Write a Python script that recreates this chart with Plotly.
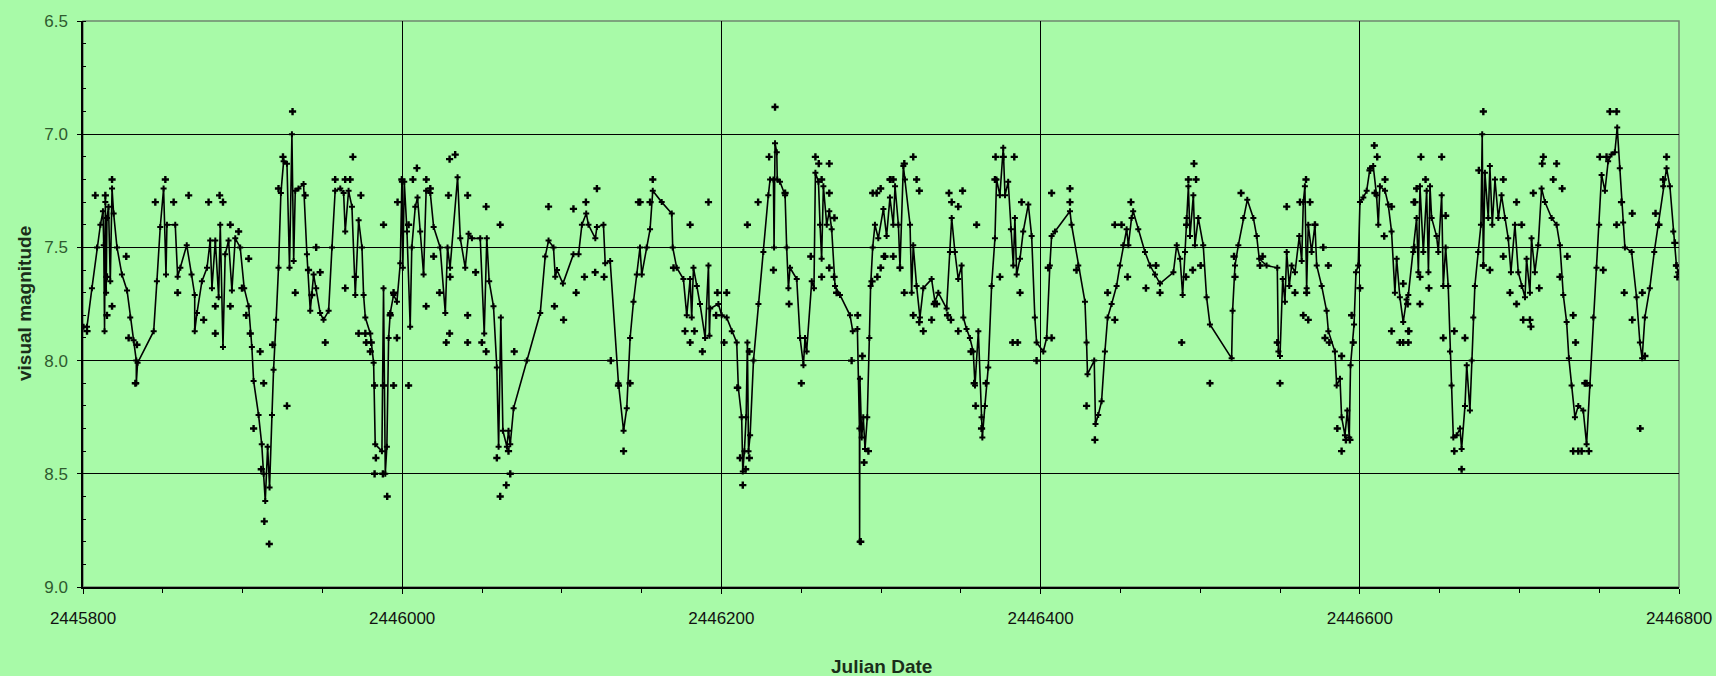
import plotly.graph_objects as go

# Julian Date origin of the plotted interval
JD0 = 2445800

# Running light curve (days after JD0, visual magnitude)
line_day = [
    0.4, 2.5, 5.6, 8.8, 10.9, 12.5, 13, 13.5, 14, 14.5, 15, 16, 17.1, 18.2, 19.2, 21.3, 24.4, 27.6, 29.6, 31.7,
    33.4, 33.4, 34.2, 44.3, 46.3, 48.4, 50.5, 52, 52.6, 57.8, 59.3, 61, 65, 68, 70, 70, 71.4, 74.5, 77.7, 79.7,
    80.8, 82.9, 85, 86, 87.7, 89.1, 91.2, 93.3, 95.4, 98.5, 101, 103.8, 105.8, 106.9, 110, 112, 113.2, 114.2, 115.7, 116.9,
    118.4, 119.4, 121, 122.5, 124, 125.7, 127.8, 129.4, 130.9, 132, 133, 135, 138.2, 140.3, 142.4, 144.5, 146.1, 148.6, 150.7, 153.9,
    156, 158, 161.2, 163.3, 164.3, 166.4, 168.5, 170.6, 172.7, 174.8, 175.8, 176.9, 180, 182.1, 183.1, 187.3, 188.3, 189.4, 190.4, 191.5,
    192.5, 194.6, 196.7, 198.8, 199.8, 200.4, 201.3, 203, 205, 206, 208.2, 209.6, 211.3, 213.4, 215, 217.6, 219.7, 223.8, 227, 228.4,
    230, 234.7, 236.4, 239.5, 241.6, 243.7, 248.9, 251.4, 253, 254.5, 257.2, 259.3, 260.4, 261.8, 263.1, 265.6, 266.6, 267.7, 269.8, 278.1,
    286.5, 289.6, 291.7, 294.8, 295.9, 297, 300.7, 307.3, 310.5, 312.6, 315.3, 316.7, 321, 322, 326.1, 327.2, 330.3, 335.5, 338.7, 340.7,
    342.8, 344.9, 347, 349, 350.1, 353.2, 355.3, 357, 362.6, 368.9, 369.5, 372, 376.2, 378.3, 380.4, 381.4, 382.5, 384.6, 386.6, 389.8,
    391.9, 392.5, 393, 398.1, 400.2, 403.3, 406.5, 409.6, 410.6, 412.7, 413.4, 414.4, 415.5, 416.3, 417, 418, 420.1, 423.2, 426.3, 429.4,
    430.5, 432.6, 433, 433.6, 434.7, 435, 436.7, 439.9, 440.9, 442, 443, 447.2, 449.3, 451.4, 452.4, 453.4, 456.6, 458, 458.9, 460.8,
    461.8, 462.8, 463.9, 466, 467.6, 469.1, 471.2, 474.3, 480.6, 482.3, 485.2, 486.5, 486.6, 486.8, 487.9, 488.9, 490, 491.4, 492.7, 493.5,
    494.8, 496.2, 498.3, 501.5, 503.5, 505.6, 507.7, 508.8, 510.9, 511.9, 514, 515, 518.2, 519.2, 520.2, 522.3, 524.4, 526.5, 531.7, 533.8,
    535.9, 541.1, 543.2, 544.3, 546.3, 548.4, 550.5, 551.6, 553.6, 555.7, 557.8, 558.9, 561, 563, 563.5, 565.1, 567.2, 569.3, 571.4, 572.4,
    574.5, 576.6, 577.7, 579.7, 581.4, 582.9, 583.9, 585, 587.1, 589.1, 592.3, 594.4, 596.4, 597.5, 601.7, 603.8, 605.8, 606.9, 609, 618.4,
    619.4, 623.6, 627.8, 628.8, 629.4, 633.6, 634.4, 636.1, 638.2, 640.3, 642, 644.5, 647.6, 649.7, 651.8, 653.9, 655, 657, 658, 661.2,
    665.4, 668.6, 671.7, 674.8, 683.2, 685.3, 687.4, 689, 690.5, 691.5, 692.6, 693.6, 695.7, 696.7, 698.8, 701.9, 704, 706.1, 719.7, 720.3,
    721.8, 723.9, 727, 729.5, 733.3, 735.4, 737, 741.6, 748.3, 749, 750, 751.7, 753.1, 754.2, 755.8, 757.3, 759.4, 762.1, 763.6, 764.6,
    765.6, 766.7, 767.7, 769.8, 771.9, 773, 776.1, 779.2, 780.3, 784.4, 785.5, 787.6, 788.6, 790.7, 792.2, 793.4, 794.2, 796.4, 797.6, 799,
    800.1, 802.2, 804.3, 806.4, 808.4, 810.5, 811.6, 812.6, 815.8, 817.8, 819.9, 822, 823.1, 825.1, 827.2, 829.3, 830.4, 833.5, 835.6, 836.7,
    837.7, 839.8, 841.9, 843, 844, 845, 848.1, 849.2, 851.3, 852.3, 853.8, 855.4, 856.5, 857.5, 858.6, 860.7, 862.8, 863.8, 865.9, 867,
    869, 870.1, 871.1, 872.1, 874.2, 875.9, 876.7, 877.4, 878.4, 880.5, 881.5, 883, 884.7, 886.8, 888.8, 890.9, 893, 894.7, 897.2, 899.3,
    901.4, 903.5, 904.5, 906.6, 907.6, 909.7, 911.8, 913.9, 916, 920.2, 923.3, 925.4, 927.5, 929.6, 931, 932.7, 934.8, 936.9, 940, 942.1,
    944.2, 946.3, 948.3, 950, 951.5, 953.6, 955.6, 957.7, 959.8, 961.3, 962.9, 965, 966.1, 970.3, 973.4, 975.5, 976.9, 978.6, 981.7, 984.5,
    987, 990.1, 992.2, 994.3, 996.4, 998.4, 999.5,
]
line_mag = [
    7.85, 7.85, 7.68, 7.50, 7.40, 7.34, 7.49, 7.87, 7.30, 7.70, 7.37, 7.32, 7.65, 7.24, 7.35, 7.50, 7.62, 7.69, 7.81, 7.91,
    8.00, 8.10, 8.01, 7.87, 7.65, 7.41, 7.24, 7.62, 7.40, 7.40, 7.63, 7.59, 7.49, 7.62, 7.71, 7.87, 7.79, 7.65, 7.59, 7.47,
    7.68, 7.47, 7.72, 7.40, 7.94, 7.53, 7.47, 7.69, 7.46, 7.50, 7.68, 7.76, 7.94, 8.09, 8.24, 8.37, 8.50, 8.62, 8.38, 8.56,
    8.24, 8.04, 7.82, 7.59, 7.26, 7.12, 7.13, 7.59, 7.00, 7.56, 7.25, 7.24, 7.22, 7.53, 7.78, 7.62, 7.68, 7.79, 7.82, 7.78,
    7.50, 7.25, 7.24, 7.26, 7.43, 7.25, 7.32, 7.71, 7.38, 7.50, 7.71, 7.81, 7.88, 8.01, 8.37, 8.40, 7.68, 8.50, 8.38, 7.90,
    7.79, 7.71, 7.74, 7.57, 7.21, 7.59, 7.21, 7.43, 7.85, 7.50, 7.32, 7.28, 7.43, 7.62, 7.25, 7.26, 7.41, 7.50, 7.79, 7.50,
    7.59, 7.19, 7.46, 7.59, 7.44, 7.46, 7.46, 7.88, 7.46, 7.65, 7.76, 8.03, 8.38, 7.81, 8.31, 8.38, 8.31, 8.37, 8.21, 8.00,
    7.79, 7.54, 7.47, 7.50, 7.63, 7.60, 7.66, 7.53, 7.53, 7.40, 7.35, 7.40, 7.46, 7.41, 7.40, 7.57, 7.56, 8.10, 8.31, 8.21,
    7.90, 7.74, 7.62, 7.50, 7.62, 7.50, 7.42, 7.25, 7.30, 7.35, 7.50, 7.59, 7.64, 7.80, 7.64, 7.81, 7.59, 7.67, 7.75, 7.90,
    7.58, 7.89, 7.77, 7.75, 7.80, 7.81, 7.87, 7.92, 8.12, 8.25, 8.49, 8.40, 8.25, 7.92, 8.40, 8.33, 8.00, 7.75, 7.52, 7.27,
    7.20, 7.20, 7.50, 7.04, 7.08, 7.20, 7.21, 7.27, 7.50, 7.68, 7.59, 7.64, 7.90, 8.02, 7.90, 7.96, 7.65, 7.68, 7.17, 7.21,
    7.40, 7.55, 7.23, 7.40, 7.34, 7.42, 7.67, 7.71, 7.80, 7.87, 7.86, 8.30, 8.80, 8.08, 8.34, 8.25, 8.39, 8.25, 7.90, 7.67,
    7.50, 7.40, 7.46, 7.33, 7.45, 7.28, 7.40, 7.23, 7.40, 7.59, 7.14, 7.20, 7.40, 7.70, 7.49, 7.67, 7.81, 7.68, 7.64, 7.74,
    7.70, 7.77, 7.52, 7.37, 7.52, 7.64, 7.58, 7.81, 7.86, 7.90, 7.96, 8.11, 7.87, 8.25, 8.34, 8.20, 8.03, 7.67, 7.46, 7.20,
    7.27, 7.06, 7.27, 7.21, 7.42, 7.58, 7.37, 7.62, 7.55, 7.43, 7.31, 7.45, 7.81, 7.92, 7.96, 7.90, 7.58, 7.45, 7.43, 7.34,
    7.40, 7.58, 7.74, 7.92, 8.06, 8.00, 8.28, 8.24, 8.18, 7.96, 7.81, 7.75, 7.67, 7.58, 7.49, 7.42, 7.49, 7.37, 7.34, 7.42,
    7.52, 7.58, 7.62, 7.66, 7.61, 7.49, 7.55, 7.71, 7.52, 7.37, 7.23, 7.45, 7.27, 7.49, 7.37, 7.49, 7.72, 7.84, 7.99, 7.78,
    7.58, 7.49, 7.37, 7.29, 7.37, 7.45, 7.55, 7.58, 7.59, 7.96, 7.98, 7.64, 7.74, 7.52, 7.67, 7.58, 7.61, 7.45, 7.56, 7.30,
    7.23, 7.68, 7.40, 7.52, 7.40, 7.58, 7.67, 7.78, 7.87, 7.96, 8.11, 8.08, 8.25, 8.33, 8.22, 8.34, 8.02, 7.84, 7.61, 7.58,
    7.30, 7.28, 7.25, 7.15, 7.14, 7.27, 7.40, 7.23, 7.25, 7.31, 7.43, 7.70, 7.55, 7.72, 7.83, 7.73, 7.71, 7.52, 7.37, 7.61,
    7.23, 7.52, 7.25, 7.61, 7.23, 7.37, 7.45, 7.52, 7.27, 7.67, 7.50, 7.67, 7.96, 8.11, 8.34, 8.33, 8.30, 8.39, 8.20, 8.02,
    8.22, 8.00, 7.81, 7.67, 7.52, 7.40, 7.00, 7.58, 7.17, 7.37, 7.14, 7.40, 7.20, 7.37, 7.27, 7.37, 7.46, 7.61, 7.40, 7.61,
    7.67, 7.72, 7.55, 7.70, 7.46, 7.61, 7.49, 7.24, 7.30, 7.37, 7.40, 7.49, 7.71, 7.83, 7.99, 8.11, 8.25, 8.20, 8.22, 8.37,
    8.11, 7.81, 7.59, 7.40, 7.18, 7.25, 7.12, 7.09, 7.08, 6.97, 7.15, 7.39, 7.50, 7.52, 7.72, 7.92, 7.99, 7.81, 7.68, 7.52,
    7.40, 7.23, 7.15, 7.23, 7.43, 7.58, 7.61,
]

# Individual estimates scattered around the curve (days after JD0, visual magnitude)
obs_day = [
    2.5, 7.7, 14, 18.2, 15, 15, 18.2, 27.1, 28.6, 32.8, 33.8, 45.3, 51.6, 56.8, 66.2, 59.3, 75.6, 78.7, 85.6, 87.7,
    82.9, 82.9, 92.3, 92.3, 97.5, 103.8, 99.6, 102.3, 104.8, 111, 118.8, 113.2, 106.9, 111.7, 113.6, 116.7, 127.8, 131.3, 122.5, 125.3,
    139.2, 141.3, 146.1, 133, 143.4, 148.6, 151.8, 158, 164.3, 167.4, 169.1, 164.3, 170.6, 172.7,
    174.1, 188.3, 176.9, 177.5, 180.6, 180, 182.7, 188.3, 194.6, 183.5, 182.7, 187.9, 190.6, 204, 194.6, 192.5, 196.7, 209.2, 206.7, 215.1,
    217.6, 199.8, 197.1, 204, 229.7, 233.2, 229, 241, 252.6, 219.7, 223.4, 215, 230, 227.6, 229.7, 241, 241, 249.9, 252.6, 246,
    261.4, 270.2, 259.3, 261.4, 265.2, 267.7, 266.6, 291.7, 307.3, 315.1, 322, 295.4, 301.1, 309, 314.2, 320.9, 326.5, 348, 335.5, 338.7,
    330.7,
    342.8, 349.1, 355.3, 357, 391.9, 380.4, 370, 377.2, 380.4, 383.1, 388.1, 397.5, 403.3, 396.7, 401.7, 410, 413.4, 411.7, 417.5, 415.2,
    417.5, 416.3, 423, 429.9, 433.6, 432.6, 439.9, 442.4, 450.1, 456, 458.9, 461, 467.6, 462.8, 467.6, 470.8, 467.6, 462.8, 470.6, 472.2,
    485.4, 481.6, 488.3, 492.1, 489.4, 487.3, 494.4, 497.7, 499.8, 499.8, 494.8, 497.3, 506, 501.9, 507.7,
    505.6, 507.7, 520.2, 514.6, 522.3, 524, 502.5, 511.9, 514.6, 520.2, 524, 526.5, 531.7, 533.4, 534.9, 541.7, 543.8, 548.4, 542.6, 544.3,
    548.4, 551.1, 559.9, 556.4, 558.4, 559.3, 565.8, 563, 571.8, 576.6, 583.5, 571.4, 574.5, 582.5, 585.6, 588.1, 587.1, 597.5, 606.9, 606.9,
    604.8, 618.4, 618.4, 622.5, 628.8, 634, 646.5, 650.7, 656.6, 654.5, 646.5, 642, 666,
    672.3, 674.8, 688.4, 691.5, 692.6, 697.4, 696.1, 695.3, 691.1, 700.3, 706.1, 725.6, 721.2, 721.8, 737.5, 739.1, 750, 748.3, 754.2, 766.3,
    762.5, 768.8, 771.9, 764.6, 767.7, 759.4, 766.7, 777.1, 780.3, 778.2, 780.9, 788.6, 785.9, 788.6, 791.3, 793.8, 794.9, 795.9, 800.1, 809.1,
    810.9, 806.4, 815.8, 809.5, 819.9, 815.3, 819.9, 825.1, 827.2, 830.4, 830.4, 827.2, 833.9,
    838.3, 851.3, 841.2, 835.6, 834.6, 834.1, 837.7, 843.3, 837.7, 830, 830.8, 853.8, 852.3, 859.2, 865.9, 859.2, 863.8, 877.4, 874.6, 881.5,
    877.4, 889.9, 898.2, 901.4, 889.9, 894.1, 898.2, 902.4, 906.6, 907.2, 912.4, 908.7, 915, 914.3, 923.3, 921.2, 926.8, 930, 925.4, 933.7,
    935.2, 933.7, 936.9, 939, 943.5, 942.1, 941, 956.7, 960.9, 950.4, 954.6, 952.5, 960.9, 964, 970.7, 965.7, 970.7, 977, 975.7, 978.6,
    985.3, 987.4, 992.2, 990.1, 997.4, 998.4, 999,
]
obs_mag = [
    7.87, 7.27, 7.27, 7.20, 7.63, 7.80, 7.76, 7.54, 7.90, 8.10, 7.93, 7.30, 7.20, 7.30, 7.27, 7.70, 7.82, 7.30, 7.27, 7.30,
    7.88, 7.76, 7.40, 7.76, 7.43, 7.55, 7.68, 7.80, 7.88, 7.96, 7.93, 8.10, 8.30, 8.48, 8.71, 8.81, 8.20, 6.90, 7.24, 7.10,
    7.27, 7.60, 7.50, 7.70, 7.71, 7.61, 7.92, 7.20, 7.20, 7.20, 7.10, 7.68, 7.63, 7.88,
    7.27, 7.40, 7.88, 7.92, 7.92, 7.96, 8.11, 8.11, 8.11, 8.43, 8.50, 8.50, 8.60, 8.11, 7.70, 7.80, 7.90, 7.15, 7.20, 7.20,
    7.24, 7.20, 7.30, 7.40, 7.11, 7.09, 7.27, 7.27, 7.32, 7.54, 7.70, 7.76, 7.63, 7.92, 7.88, 7.80, 7.92, 7.92, 7.96, 7.61,
    7.40, 7.96, 8.43, 8.60, 8.55, 8.50, 8.40, 7.32, 7.33, 7.30, 7.24, 7.76, 7.82, 7.70, 7.63, 7.61, 7.63, 7.30, 8.11, 8.40,
    8.00,
    8.10, 7.30, 7.30, 7.20, 7.30, 7.40, 7.59, 7.87, 7.92, 7.87, 7.96, 7.70, 7.70, 7.80, 7.92, 8.12, 8.55, 8.43, 8.43, 8.48,
    7.96, 7.40, 7.30, 7.10, 6.88, 7.60, 7.26, 7.75, 8.10, 7.54, 7.10, 7.13, 7.13, 7.20, 7.26, 7.37, 7.59, 7.63, 7.63, 7.70,
    7.80, 8.00, 7.98, 8.40, 8.45, 8.80, 7.65, 7.63, 7.59, 7.24, 7.26, 7.26, 7.20, 7.54, 7.54,
    7.20, 7.20, 7.10, 7.13, 7.20, 7.25, 7.54, 7.59, 7.70, 7.80, 7.83, 7.87, 7.82, 7.75, 7.75, 7.80, 7.82, 7.87, 7.26, 7.30,
    7.32, 7.25, 7.40, 7.96, 8.10, 8.20, 8.10, 8.30, 7.10, 7.10, 7.10, 7.20, 7.63, 7.92, 7.92, 7.30, 7.70, 8.00, 7.26, 7.90,
    7.59, 7.24, 7.30, 7.60, 8.20, 8.35, 7.40, 7.40, 7.30, 7.63, 7.82, 7.70, 7.68,
    7.58, 7.70, 7.92, 7.40, 7.20, 7.20, 7.13, 7.60, 7.63, 7.58, 8.10, 7.26, 7.54, 7.63, 7.58, 7.54, 8.10, 7.92, 7.32, 7.20,
    7.30, 7.30, 7.40, 7.80, 7.82, 7.70, 7.70, 7.50, 7.58, 7.90, 7.92, 7.98, 8.30, 8.40, 8.35, 8.35, 7.80, 7.92, 7.68, 7.05,
    7.10, 7.16, 7.20, 7.26, 7.32, 7.45, 7.87, 7.92, 7.92, 7.92, 7.87, 7.66, 7.30,
    7.10, 7.10, 7.20, 7.24, 7.30, 7.50, 7.63, 7.68, 7.75, 7.75, 7.87, 7.36, 7.90, 7.87, 7.90, 8.40, 8.48, 6.90, 7.16, 7.60,
    7.58, 7.20, 7.30, 7.40, 7.54, 7.70, 7.75, 7.82, 7.82, 7.85, 7.68, 7.26, 7.10, 7.13, 7.13, 7.20, 7.24, 7.54, 7.63, 7.80,
    7.92, 8.40, 8.40, 8.40, 8.40, 8.10, 8.10, 6.90, 6.90, 7.10, 7.10, 7.60, 7.40, 7.30, 7.35, 7.70, 7.82, 7.70, 8.30, 7.98,
    7.35, 7.40, 7.10, 7.20, 7.48, 7.58, 7.63,
]

line_jd = [JD0 + d for d in line_day]
obs_jd = [JD0 + d for d in obs_day]

x_ticks = [2445800, 2446000, 2446200, 2446400, 2446600, 2446800]
y_ticks = [6.5, 7.0, 7.5, 8.0, 8.5, 9.0]

BG = "#A8FAA8"
FONT = "Liberation Sans, Arial, sans-serif"

fig = go.Figure()

fig.add_trace(go.Scatter(
    x=obs_jd, y=obs_mag, mode="markers",
    marker=dict(symbol="cross", size=6, color="black", line=dict(width=0)),
    hoverinfo="x+y", showlegend=False,
))
fig.add_trace(go.Scatter(
    x=line_jd, y=line_mag, mode="lines+markers",
    line=dict(color="black", width=1.6),
    marker=dict(symbol="cross", size=5, color="black", line=dict(width=0)),
    hoverinfo="x+y", showlegend=False,
))

fig.update_layout(
    width=1716, height=676,
    margin=dict(l=83, r=37, t=21, b=89, autoexpand=False),
    paper_bgcolor=BG, plot_bgcolor=BG,
    font=dict(family=FONT, size=17, color="#111111"),
    xaxis=dict(
        range=[2445800, 2446800], tickvals=x_ticks, tickformat="d",
        automargin=False,
        ticks="outside", ticklen=5, tickcolor="black", tickwidth=1.3,
        ticklabelstandoff=10,
        showgrid=True, gridcolor="black", gridwidth=1.3,
        showline=True, linecolor="black", linewidth=1.5,
        zeroline=False,
        tickfont=dict(family=FONT, size=17, color="#111111"),
        minor=dict(dtick=50, tick0=2445800, ticks="outside", ticklen=4,
                   tickcolor="black", showgrid=False),
    ),
    yaxis=dict(
        range=[9.0, 6.5], tickvals=y_ticks, tickformat=".1f",
        automargin=False,
        ticks="outside", ticklen=4, tickcolor="black", tickwidth=1.3,
        ticklabelstandoff=6,
        showgrid=True, gridcolor="black", gridwidth=1.3,
        showline=True, linecolor="black", linewidth=1.5,
        zeroline=False,
        tickfont=dict(family=FONT, size=17, color="#2F5A2F"),
        minor=dict(dtick=0.1, tick0=6.5, ticks="inside", ticklen=3,
                   tickcolor="black", showgrid=False),
    ),
    shapes=[dict(
        type="rect", xref="paper", yref="paper", x0=0, x1=1, y0=0, y1=1,
        line=dict(color="#6F876F", width=1.5), layer="below",
    )],
    annotations=[
        dict(text="<b>visual magnitude</b>", x=0, y=0.5, xref="paper", yref="paper",
             xanchor="center", yanchor="middle", xshift=-59, textangle=-90,
             showarrow=False, font=dict(family=FONT, size=19, color="#1A2E1A")),
        dict(text="<b>Julian Date</b>", x=0.5, y=0, xref="paper", yref="paper",
             xanchor="center", yanchor="middle", yshift=-79,
             showarrow=False, font=dict(family=FONT, size=19, color="#1A2E1A")),
    ],
)

fig.write_html("out.html")
